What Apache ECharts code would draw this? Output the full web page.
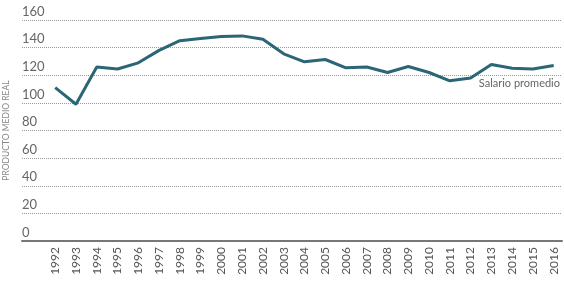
<!DOCTYPE html>
<html>
<head>
<meta charset="utf-8">
<script src="https://cdn.jsdelivr.net/npm/echarts@6/dist/echarts.min.js"></script>
<style>
  html, body { margin: 0; padding: 0; background: #fff; }
  #chart { width: 564px; height: 282px; }
</style>
</head>
<body>
<div id="chart"></div>
<script>
// años y producto medio real (salario promedio)
const years = [1992, 1993, 1994, 1995, 1996, 1997, 1998, 1999, 2000, 2001, 2002, 2003,
  2004, 2005, 2006, 2007, 2008, 2009, 2010, 2011, 2012, 2013, 2014, 2015, 2016]
const salario = [111, 99, 126, 124.5, 129, 138, 145, 146.6, 148, 148.5, 146, 135.5,
  129.7, 131.4, 125.4, 126, 122, 126.3, 122, 116, 118, 127.8, 125, 124.6, 127]
const yTicks = [0, 20, 40, 60, 80, 100, 120, 140, 160]

const lineColor = '#2b6676'
const textGray = '#666'

const chart = echarts.init(document.getElementById('chart'))
chart.setOption({
  animation: false,
  grid: { left: 22, right: 2, top: 20, bottom: 41, outerBoundsMode: 'none' },
  xAxis: {
    type: 'value',
    min: 1990.4,
    max: 2016.4,
    axisLine: { show: true, lineStyle: { color: '#777', width: 2 } },
    axisTick: { show: false },
    splitLine: { show: false },
    axisLabel: {
      customValues: years,
      rotate: 90,
      margin: 6,
      color: '#555',
      fontSize: 12,
      fontFamily: 'Lato',
      formatter: v => String(v)
    }
  },
  yAxis: {
    type: 'value',
    min: yTicks[0],
    max: yTicks[yTicks.length - 1],
    interval: 20,
    name: 'PRODUCTO MEDIO REAL',
    nameLocation: 'middle',
    nameRotate: 90,
    nameGap: 10,
    nameTextStyle: { color: '#888', fontSize: 8.5, fontFamily: 'Lato' },
    axisLine: { show: false },
    axisTick: { show: false },
    splitLine: { lineStyle: { color: '#999', type: 'dotted', width: 1 } },
    axisLabel: {
      inside: true,
      margin: 0,
      verticalAlign: 'bottom',
      padding: [0, 0, 2, 0],
      color: textGray,
      fontSize: 13,
      fontFamily: 'Lato'
    }
  },
  series: [{
    type: 'line',
    data: years.map((y, i) => [y, salario[i]]),
    symbol: 'none',
    lineStyle: { color: lineColor, width: 3 }
  }],
  graphic: [{
    type: 'text',
    right: 4,
    top: 78,
    style: { text: 'Salario promedio', fill: textGray, fontSize: 11, fontFamily: 'Lato' }
  }]
})
</script>
</body>
</html>
